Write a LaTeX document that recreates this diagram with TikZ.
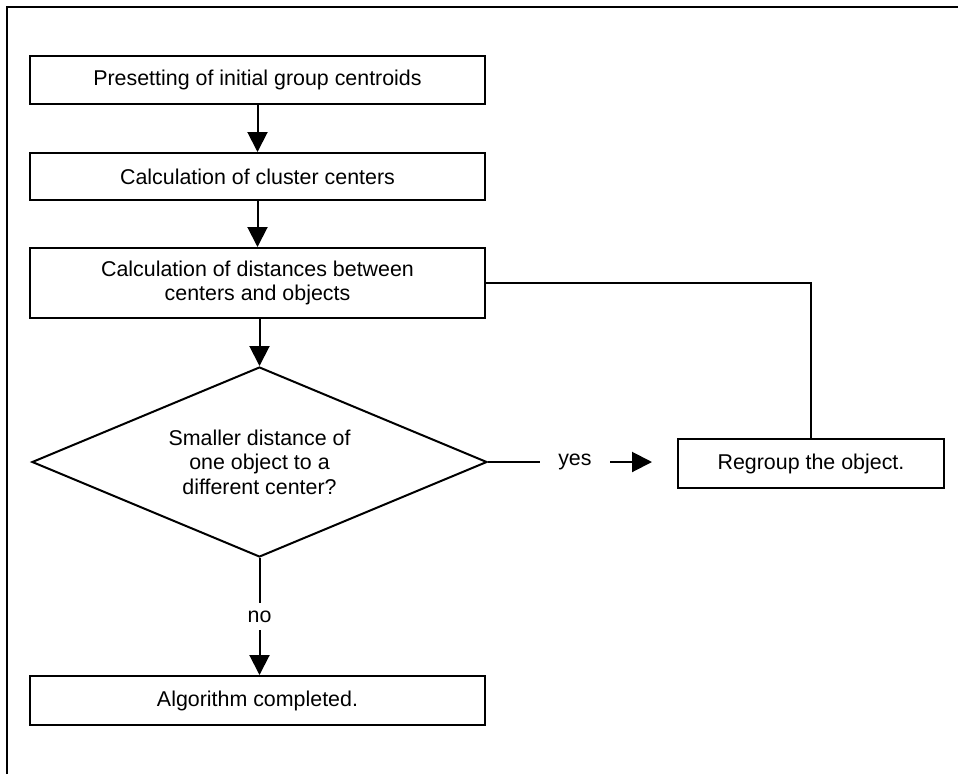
\documentclass[tikz,border=0pt]{standalone}
\usepackage{fontspec}
\setmainfont{Liberation Sans}
\usetikzlibrary{shapes.geometric,arrows.meta}
\begin{document}
\begin{tikzpicture}[x=1pt,y=-1pt,
  every node/.style={font=\fontsize{21.4}{24.5}\selectfont},
  stepbox/.style={draw, line width=2pt, rectangle, minimum width=455pt, inner sep=0pt, align=center},
  decision/.style={draw, line width=2pt, diamond, minimum width=455pt, minimum height=190pt, inner sep=0pt, aspect=2.4, align=center},
  conn/.style={line width=2pt},
  arr/.style={conn, -{Triangle[width=20pt,length=20pt]}},
  lbl/.style={fill=white, inner sep=0pt}
]
\useasboundingbox (0,0) rectangle (958,774);
% outer frame (only top and left edges visible)
\draw[line width=2pt] (6.5,774) -- (6.5,7) -- (958,7);

\node[stepbox, minimum height=48pt] (b1) at (257.5,80) {Presetting of initial group centroids};
\node[stepbox, minimum height=47pt] (b2) at (257.5,176.5) {Calculation of cluster centers};
\node[stepbox, minimum height=70pt] (b3) at (257.5,283) {Calculation of distances between\\centers and objects};
\node[decision] (dia) at (259.5,462) {Smaller distance of\\one object to a\\different center?};
\node[stepbox, minimum width=266pt, minimum height=49pt] (reg) at (811,463.5) {Regroup the object.};
\node[stepbox, minimum height=49pt] (fin) at (257.5,700.5) {Algorithm completed.};

\draw[arr] (b1) -- (b2);
\draw[arr] (b2) -- (b3);
\draw[arr] (b3.south -| dia.north) -- (dia.north);
\draw[conn] (b3.east) -| (reg.north);
\draw[arr, shorten >=25pt] (dia.east) -- node[lbl, pos=0.46, minimum width=70pt, minimum height=4pt] {yes} (dia.east -| reg.west);
\draw[arr] (dia.south) -- node[lbl, minimum height=27pt] {no} (dia.south |- fin.north);
\end{tikzpicture}
\end{document}
